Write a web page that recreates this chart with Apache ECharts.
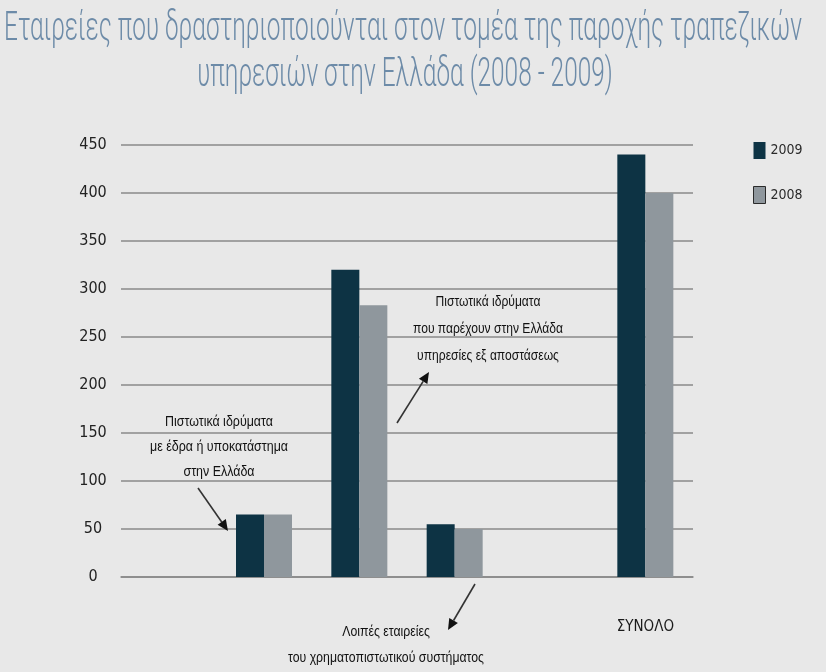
<!DOCTYPE html>
<html>
<head>
<meta charset="utf-8">
<script src="https://cdn.jsdelivr.net/npm/echarts@6/dist/echarts.min.js"></script>
<style>
html,body{margin:0;padding:0;background:#e8e8e8;}
#chart{width:826px;height:672px;}
</style>
</head>
<body>
<div id="chart"></div>
<script>
// ---- data ----
const categories = [' ', 'Πιστωτικά ιδρύματα με έδρα ή υποκατάστημα στην Ελλάδα', 'Πιστωτικά ιδρύματα που παρέχουν στην Ελλάδα υπηρεσίες εξ αποστάσεως', 'Λοιπές εταιρείες του χρηματοπιστωτικού συστήματος', '  ', 'ΣΥΝΟΛΟ'];
const seriesNames = ['2009', '2008'];
const values2009 = [null, 65, 320, 55, null, 440];
const values2008 = [null, 65, 283, 50, null, 400];
const yMin = 0, yMax = 450, yStep = 50;
const titleLines = ['Εταιρείες που δραστηριοποιούνται στον τομέα της παροχής τραπεζικών', 'υπηρεσιών στην Ελλάδα (2008 - 2009)'];
const noteA = ['Πιστωτικά ιδρύματα', 'με έδρα ή υποκατάστημα', 'στην Ελλάδα'];
const noteB = ['Πιστωτικά ιδρύματα', 'που παρέχουν στην Ελλάδα', 'υπηρεσίες εξ αποστάσεως'];
const noteC = ['Λοιπές εταιρείες', 'του χρηματοπιστωτικού συστήματος'];

// ---- helpers ----
const NARROW = '"DejaVu Sans Condensed", "Liberation Sans Narrow", "Liberation Sans", sans-serif';
const mctx = document.createElement('canvas').getContext('2d');
function fitScale(text, font, width) { mctx.font = font; return width / mctx.measureText(text).width; }

function textEl(text, x, y, font, fill, scaleX, lineHeight) {
  return {
    type: 'text', x: x, y: y, scaleX: scaleX, z: 100,
    style: {
      text: text, font: font, fill: fill,
      align: 'center', verticalAlign: 'middle',
      textAlign: 'center', textVerticalAlign: 'middle',
      lineHeight: lineHeight
    }
  };
}
function arrowEls(x1, y1, x2, y2) {
  const dx = x2 - x1, dy = y2 - y1, L = Math.hypot(dx, dy);
  const ux = dx / L, uy = dy / L, px = -uy, py = ux;
  const hl = 11, hw = 5;
  const bx = x2 - ux * hl, by = y2 - uy * hl;
  return [
    { type: 'line', z: 100, shape: { x1: x1, y1: y1, x2: bx, y2: by }, style: { stroke: '#333', lineWidth: 1.6 } },
    { type: 'polygon', z: 100, shape: { points: [[x2, y2], [bx + px * hw, by + py * hw], [bx - px * hw, by - py * hw]] }, style: { fill: '#111' } }
  ];
}

const titleFont = '300 40px Roboto, "DejaVu Sans", sans-serif';
const t1s = fitScale(titleLines[0], titleFont, 798);
const noteFont = '14px "Liberation Sans", sans-serif';
const sA = fitScale(noteA[1], noteFont, 138);
const sB = fitScale(noteB[1], noteFont, 150);
const sC = fitScale(noteC[1], noteFont, 196);

const graphics = [
  textEl(titleLines[0], 403, 30, titleFont, '#6d8ba8', t1s),
  textEl(titleLines[1], 405, 76, titleFont, '#6d8ba8', t1s),
  textEl(noteA.join('\n'), 219, 447, noteFont, '#111', sA, 25),
  textEl(noteB.join('\n'), 488, 329, noteFont, '#111', sB, 27),
  textEl(noteC.join('\n'), 386, 645, noteFont, '#111', sC, 26)
].concat(arrowEls(198, 488, 228, 531), arrowEls(397, 423, 429, 372), arrowEls(475, 584, 448, 630));

const chart = echarts.init(document.getElementById('chart'), null, { renderer: 'canvas' });
chart.setOption({
  backgroundColor: '#e8e8e8',
  animation: false,
  grid: { left: 121, right: 133, top: 145, bottom: 95, containLabel: false },
  legend: {
    orient: 'vertical', left: 753, top: 142, padding: 0,
    itemWidth: 12, itemHeight: 17, itemGap: 27,
    icon: 'rect',
    textStyle: { fontFamily: NARROW, fontSize: 14, color: '#2a2a2a' },
    data: [
      { name: seriesNames[0] },
      { name: seriesNames[1], itemStyle: { borderColor: '#2a2a2a', borderWidth: 1 } }
    ]
  },
  xAxis: {
    type: 'category', data: categories,
    axisLine: { lineStyle: { color: '#888', width: 1.5 } },
    axisTick: { show: false },
    axisLabel: {
      interval: 0, margin: 43, fontFamily: NARROW, fontSize: 15, color: '#1a1a1a',
      formatter: (v, i) => (i === categories.length - 1 ? v : '')
    }
  },
  yAxis: {
    type: 'value', min: yMin, max: yMax, interval: yStep,
    axisLine: { show: false }, axisTick: { show: false },
    splitLine: { lineStyle: { color: '#8a8a8a', width: 1.5 } },
    axisLabel: { align: 'center', margin: 28, fontFamily: NARROW, fontSize: 16, color: '#222' }
  },
  series: [
    { name: seriesNames[0], type: 'bar', data: values2009, barWidth: 28, barGap: '0%', itemStyle: { color: '#0d3344' } },
    { name: seriesNames[1], type: 'bar', data: values2008, barWidth: 28, barGap: '0%', itemStyle: { color: '#8f979d' } }
  ],
  graphic: graphics
});
</script>
</body>
</html>
